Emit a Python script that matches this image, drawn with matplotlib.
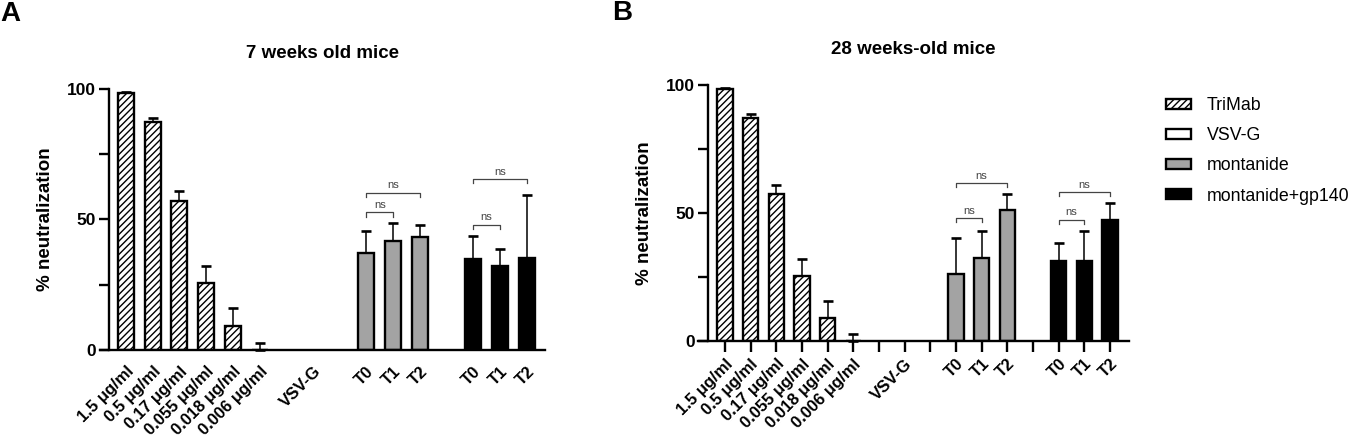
import matplotlib
matplotlib.use("Agg")
import matplotlib.pyplot as plt
from matplotlib.patches import Patch
import numpy as np

plt.rcParams['font.family'] = ['Liberation Sans', 'DejaVu Sans']
plt.rcParams['hatch.linewidth'] = 1.0

# ---- data ----
tick_labels = ['1.5 \u03bcg/ml', '0.5 \u03bcg/ml', '0.17 \u03bcg/ml', '0.055 \u03bcg/ml',
               '0.018 \u03bcg/ml', '0.006 \u03bcg/ml', '', 'VSV-G', '',
               'T0', 'T1', 'T2', '', 'T0', 'T1', 'T2']
trimab_pos = [0, 1, 2, 3, 4, 5]
mont_pos = [9, 10, 11]
gp_pos = [13, 14, 15]

# panel A: 7 weeks old mice
trimab_a = [98.5, 87.4, 57.2, 25.7, 9.2, 0.0]
trimab_a_err = [0.4, 1.5, 3.7, 6.5, 6.9, 2.8]
mont_a = [37.0, 41.9, 43.2]
mont_a_err = [8.7, 6.6, 4.7]
gp_a = [34.7, 32.2, 35.4]
gp_a_err = [9.0, 6.4, 23.9]
brackets_a = [(9, 10, 52.7), (9, 11, 60.2), (13, 14, 47.9), (13, 15, 65.4)]

# panel B: 28 weeks-old mice
trimab_b = [98.3, 87.0, 57.3, 25.4, 8.9, 0.0]
trimab_b_err = [0.5, 1.7, 3.6, 6.5, 6.8, 2.7]
mont_b = [26.0, 32.5, 51.2]
mont_b_err = [14.1, 10.5, 6.4]
gp_b = [31.4, 31.2, 47.1]
gp_b_err = [6.9, 11.8, 6.8]
brackets_b = [(9, 10, 47.9), (9, 11, 61.6), (13, 14, 47.3), (13, 15, 58.1)]

GREY = '#a3a3a3'
BW = 0.6


def bars(ax, pos, vals, errs, color, hatch=None):
    ax.bar(pos, vals, width=BW, color=color, edgecolor='black', linewidth=1.7,
           hatch=hatch, zorder=2)
    ax.errorbar(pos, vals, yerr=[np.zeros(len(errs)), errs], fmt='none',
                ecolor='black', elinewidth=1.1, capsize=3.8, capthick=1.9,
                zorder=1, clip_on=False)


def draw_panel(ax, trimab, trimab_err, mont, mont_err, gp, gp_err, brackets,
               title, xlim, spine_x, show_ticks):
    bars(ax, trimab_pos, trimab, trimab_err, 'white', hatch='/////')
    bars(ax, mont_pos, mont, mont_err, GREY)
    bars(ax, gp_pos, gp, gp_err, 'black')

    for x0, x1, y in brackets:
        ax.plot([x0, x0, x1, x1], [y - 1.6, y, y, y - 1.6], color='#444444',
                lw=0.9, zorder=3)
        ax.text((x0 + x1) / 2, y + 1.0, 'ns', ha='center', va='bottom',
                fontsize=8, color='#444444')

    ax.set_xlim(*xlim)
    ax.set_ylim(0, 100)
    ax.spines['top'].set_visible(False)
    ax.spines['right'].set_visible(False)
    ax.spines['left'].set_position(('data', spine_x))
    ax.spines['left'].set_linewidth(1.7)
    ax.spines['bottom'].set_linewidth(1.7)

    ax.set_yticks([0, 50, 100])
    ax.set_yticks([25, 75], minor=True)
    ax.tick_params(axis='y', which='both', direction='out', length=7.5, width=1.7,
                   labelsize=12.5, pad=2)
    for lab in ax.get_yticklabels():
        lab.set_fontweight('bold')

    ax.set_xticks(range(len(tick_labels)))
    ax.set_xticklabels(tick_labels, rotation=45, ha='right', va='top',
                       rotation_mode='anchor', fontsize=12, fontweight='bold')
    if show_ticks:
        ax.tick_params(axis='x', length=8, width=1.7, pad=3)
    else:
        ax.tick_params(axis='x', length=0, pad=10)

    ax.set_ylabel('% neutralization', fontsize=13.5, fontweight='bold', labelpad=9)
    ax.set_title(title, fontsize=13.5, fontweight='bold', pad=22)


fig = plt.figure(figsize=(13.54, 4.48), dpi=100)

ax_a = fig.add_axes([0.0739, 0.21875, 0.3287, 0.5826])
draw_panel(ax_a, trimab_a, trimab_a_err, mont_a, mont_a_err, gp_a, gp_a_err,
           brackets_a, '7 weeks old mice', (-0.97, 15.69), -0.64, False)

ax_b = fig.add_axes([0.5155, 0.2388, 0.3183, 0.5714])
draw_panel(ax_b, trimab_b, trimab_b_err, mont_b, mont_b_err, gp_b, gp_b_err,
           brackets_b, '28 weeks-old mice', (-1.05, 15.74), -0.66, True)

fig.text(0.0, 0.968, 'A', fontsize=20, fontweight='bold', ha='left', va='center')
fig.text(0.452, 0.970, 'B', fontsize=20, fontweight='bold', ha='left', va='center')

handles = [Patch(facecolor='white', edgecolor='black', hatch='/////', linewidth=1.7),
           Patch(facecolor='white', edgecolor='black', linewidth=1.7),
           Patch(facecolor=GREY, edgecolor='black', linewidth=1.7),
           Patch(facecolor='black', edgecolor='black', linewidth=1.7)]
fig.legend(handles, ['TriMab', 'VSV-G', 'montanide', 'montanide+gp140'],
           loc='upper left', bbox_to_anchor=(0.8495, 0.819), frameon=False,
           fontsize=12.8, handlelength=1.4, handleheight=0.45, handletextpad=0.9,
           labelspacing=0.74)

fig.savefig('out.png', dpi=100)
